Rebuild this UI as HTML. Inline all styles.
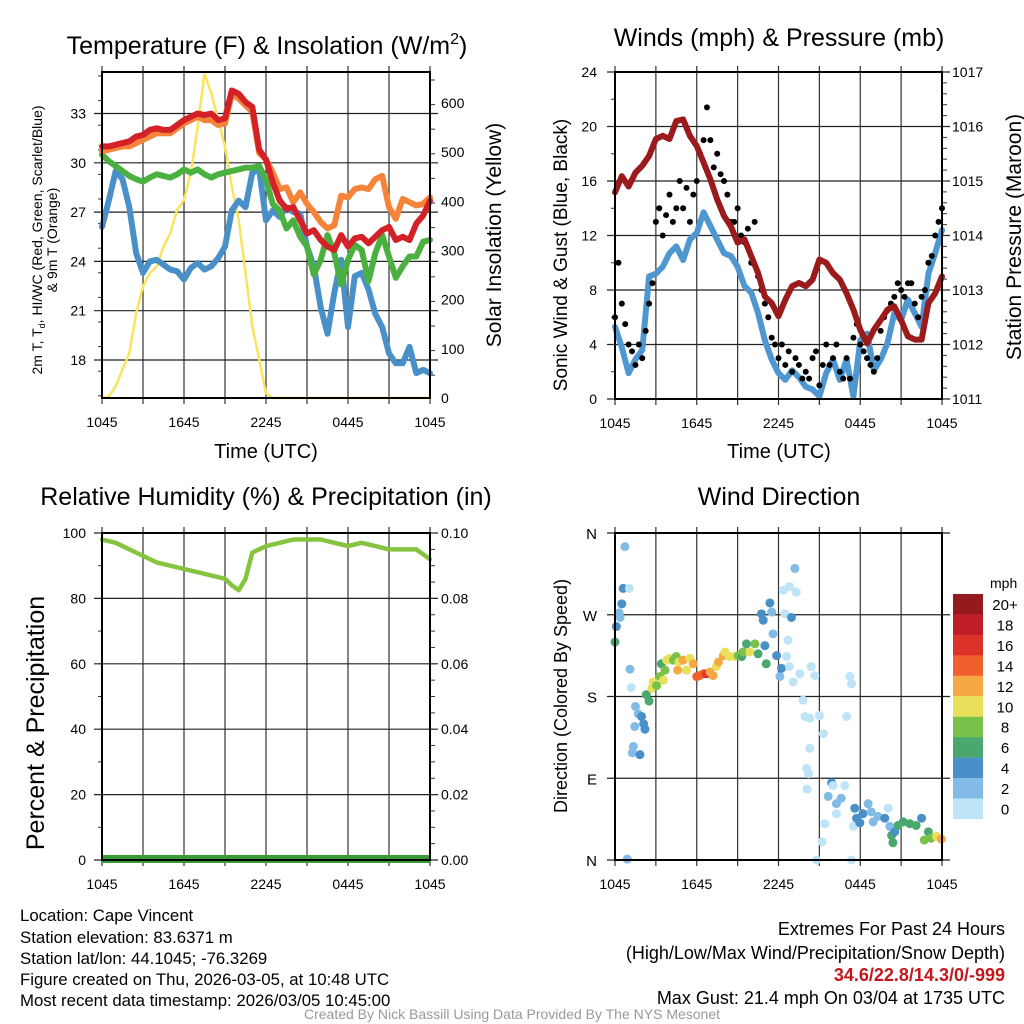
<!DOCTYPE html>
<html><head><meta charset="utf-8"><style>
html,body{margin:0;padding:0;background:#fff;}
svg{display:block;font-family:"Liberation Sans",Arial,sans-serif;}
</style></head><body>
<svg id="chart" width="1024" height="1024" viewBox="0 0 1024 1024" xmlns="http://www.w3.org/2000/svg">
<text x="267" y="54" font-size="25" text-anchor="middle">Temperature (F) &amp; Insolation (W/m<tspan font-size="16" dy="-10">2</tspan><tspan dy="10">)</tspan></text>
<text x="779" y="46" font-size="25" text-anchor="middle">Winds (mph) &amp; Pressure (mb)</text>
<text x="266" y="505" font-size="25" text-anchor="middle">Relative Humidity (%) &amp; Precipitation (in)</text>
<text x="779" y="505" font-size="25" text-anchor="middle">Wind Direction</text>
<text x="266" y="458" font-size="20" text-anchor="middle">Time (UTC)</text>
<text x="779" y="458" font-size="20" text-anchor="middle">Time (UTC)</text>
<text transform="translate(42,240) rotate(-90)" font-size="14" text-anchor="middle">2m T, T<tspan font-size="9" dy="3">d</tspan><tspan dy="-3">, HI/WC (Red, Green, Scarlet/Blue)</tspan></text>
<text transform="translate(57,240) rotate(-90)" font-size="14" text-anchor="middle">&amp; 9m T (Orange)</text>
<text transform="translate(501,235) rotate(-90)" font-size="21" text-anchor="middle">Solar Insolation (Yellow)</text>
<text transform="translate(567,255) rotate(-90)" font-size="19" text-anchor="middle">Sonic Wind &amp; Gust (Blue, Black)</text>
<text transform="translate(1021,237) rotate(-90)" font-size="21" text-anchor="middle">Station Pressure (Maroon)</text>
<text transform="translate(44,723) rotate(-90)" font-size="25" text-anchor="middle">Percent &amp; Precipitation</text>
<text transform="translate(567,696) rotate(-90)" font-size="18" text-anchor="middle">Direction (Colored By Speed)</text>
<g font-size="16.8">
<text x="20" y="921">Location: Cape Vincent</text>
<text x="20" y="943">Station elevation: 83.6371 m</text>
<text x="20" y="964">Station lat/lon: 44.1045; -76.3269</text>
<text x="20" y="985">Figure created on Thu, 2026-03-05, at 10:48 UTC</text>
<text x="20" y="1006">Most recent data timestamp: 2026/03/05 10:45:00</text>
</g>
<g font-size="18" text-anchor="end">
<text x="1005" y="935">Extremes For Past 24 Hours</text>
<text x="1005" y="959">(High/Low/Max Wind/Precipitation/Snow Depth)</text>
<text x="1005" y="981" fill="#c4161c" font-weight="bold">34.6/22.8/14.3/0/-999</text>
<text x="1005" y="1004">Max Gust: 21.4 mph On 03/04 at 1735 UTC</text>
</g>
<text x="512" y="1019" font-size="14" fill="#999" text-anchor="middle">Created By Nick Bassill Using Data Provided By The NYS Mesonet</text>
</svg>
<script>
// ---- data ----
const xTickLabels = ['1045','1645','2245','0445','1045'];
const tempHours = [0,0.5,1,1.5,2,2.5,3,3.5,4,4.5,5,5.5,6,6.5,7,7.5,8,8.5,9,9.5,10,10.5,11,11.5,12,12.5,13,13.5,14,14.5,15,15.5,16,16.5,17,17.5,18,18.5,19,19.5,20,20.5,21,21.5,22,22.5,23,23.5,24];
const tempRed = [31.0,31.0,31.1,31.2,31.3,31.6,31.7,32.0,32.1,32.0,32.0,32.3,32.6,32.8,33.0,32.9,33.0,32.6,32.7,34.4,34.2,33.7,33.4,30.8,30.2,28.8,27.7,27.2,27.3,26.5,25.7,25.9,25.3,24.9,24.7,25.6,24.9,25.4,25.5,25.1,25.5,25.9,26.1,25.3,25.5,25.3,26.3,26.8,27.7];
const tempOrange = [30.7,30.8,30.9,31.0,31.0,31.2,31.4,31.6,31.8,31.8,31.8,32.1,32.4,32.6,32.8,32.6,32.6,32.3,32.4,34.2,33.9,33.5,33.1,30.6,30.2,29.4,28.4,28.5,27.6,28.2,27.5,27.0,26.4,26.0,26.2,28.0,27.9,28.4,28.5,28.4,29.0,29.2,27.3,26.6,27.8,27.6,27.4,27.5,27.9];
const tempGreen = [30.5,30.1,29.8,29.5,29.2,29.0,28.85,29.1,29.3,29.2,29.1,29.3,29.6,29.4,29.6,29.3,29.1,29.3,29.4,29.5,29.6,29.7,29.7,29.8,28.95,27.5,27.1,26.0,26.5,25.5,24.9,23.2,24.1,25.6,24.5,22.6,24.1,25.0,24.7,22.8,24.5,25.6,24.3,23.0,23.7,24.3,24.3,25.2,25.3];
const tempBlue = [26.1,27.7,29.5,29.0,27.3,24.5,23.3,24.0,24.1,23.8,23.5,23.4,22.9,23.6,23.9,23.5,23.7,24.2,24.9,27.1,27.7,27.3,29.4,29.6,26.5,27.1,26.7,27.3,27.0,26.9,24.9,23.7,21.2,19.6,22.1,24.1,20.0,23.1,23.3,22.3,20.8,20.0,18.4,17.8,17.8,18.8,17.2,17.4,17.2];
const solar = [0,3,24,58,91,173,227,254,268,308,335,383,403,457,552,660,620,566,512,430,362,254,146,78,10,0,0,0,0,0,0,0,0,0,0,0,0,0,0,0,0,0,0,0,0,0,0,0,0];
const tempTicks = [18,21,24,27,30,33];
const solarTicks = [0,100,200,300,400,500,600];
const windSpeed = [5.3,3.8,1.9,2.9,3.6,9.0,9.2,9.7,10.7,11.2,10.2,11.7,12.2,13.7,12.7,11.7,10.7,10.5,9.7,8.3,7.8,6.3,4.3,2.9,1.9,1.4,2.1,1.6,0.9,0.7,0.2,1.9,2.9,1.4,2.9,0.2,4.3,4.8,2.1,2.9,4.1,6.3,5.8,7.3,6.3,5.3,9.2,10.7,12.4];
const pressure = [1014.79,1015.09,1014.9,1015.15,1015.28,1015.46,1015.77,1015.83,1015.77,1016.1,1016.13,1015.83,1015.64,1015.34,1015.03,1014.66,1014.36,1014.17,1013.87,1013.93,1013.62,1013.31,1012.88,1012.76,1012.52,1012.82,1013.07,1013.13,1013.07,1013.19,1013.56,1013.5,1013.31,1013.19,1012.94,1012.64,1012.27,1012.02,1012.27,1012.45,1012.64,1012.7,1012.45,1012.15,1012.09,1012.09,1012.76,1012.94,1013.25];
const gusts = [6,10,7,5.5, 4,3.5,2.5,4, 3,5,7,8.5, 13,14,12,13.5, 15,13,14,16, 14,15.5,13,15, 16,18,19,21.4, 19,17,18,16.5, 16,15,13,13, 14,12,11.5,12.5, 10,13,9,8, 7,6,4.5,4, 3,4,2.5,3.5, 2,3,2.5,1.5, 2,1.5,3,3.5, 1,2.5,4,2.5, 3,4,2,1.5, 3,1.5,4.5,5.5, 4,3.5,3,2.5, 2,3,5,6, 6.5,7,7.5,8.5, 8,7.5,8.5,8.5, 7,6,7.5,8, 10,10.5,12,13, 14];
const windTicks = [0,4,8,12,16,20,24];
const pressureTicks = [1011,1012,1013,1014,1015,1016,1017];
const rhHours = [0,1,2,3,4,5,6,7,8,9,9.5,10,10.5,11,12,13,14,15,16,17,18,19,20,21,22,23,24];
const rh = [98,97,95,93,91,90,89,88,87,86,84,82.5,86,94,96,97,98,98,98,97,96,97,96,95,95,95,92];
const rhTicks = [0,20,40,60,80,100];
const precipTicks = ['0.00','0.02','0.04','0.06','0.08','0.10'];
const dirHour = [0,0.1,0.3,0.37,0.5,0.6,0.73,1.05,1.1,1.2,0.9,1.5,1.7,1.95,2.1,2.2,1.45,1.35,1.27,1.83,2.3,2.5,2.7,2.8,3.05,3.3,3.55,3.4,3.67,3.8,4.0,4.28,4.5,4.6,4.7,5.0,5.25,5.5,5.75,6.0,6.2,6.5,6.72,6.97,7.2,7.45,7.6,7.95,8.07,8.4,8.8,9.05,9.3,9.4,9.65,9.9,10.27,10.5,10.75,10.88,11.0,11.1,11.37,11.5,11.6,11.86,12.1,12.22,12.35,12.47,12.8,12.95,13.2,13.3,12.7,12.6,12.8,13.08,13.57,13.8,13.94,14.3,14.4,14.67,15.0,15.3,14.3,14.06,14.2,14.1,14.8,15.2,15.4,15.65,15.9,16.0,16.25,16.25,16.6,16.87,17.0,17.24,17.36,17.36,17.5,17.6,17.73,17.97,18.2,18.58,18.8,18.95,19.3,19.8,20.05,20.17,20.3,20.53,20.4,20.78,21.15,21.64,22.1,22.5,23.0,22.7,23.2,23.6,23.95];
const dirDeg = [240,257,272,267,282,299,345,299,210,190,1,169,161,158,150,144,147,125,118,116,182,175,189,196,192,202,198,216,209,220,222,220,224,209,218,220,209,222,216,202,203,205,205,207,203,213,218,225,229,224,224,225,224,229,238,229,238,227,271,264,236,216,283,273,249,225,202,211,297,271,301,267,321,295,242,224,213,196,205,176,158,156,213,203,159,139,123,101,95,78,0,20,40,70,85,82,62,51,68,82,158,202,194,0,37,57,46,41,51,62,53,42,48,46,57,37,27,31,19,38,42,40,38,46,31,22,24,26,23];
const dirSpeed = [6,4,3,2,4,4,2,0,2,0,2,2,2,4,4,4,2,2,2,4,6,6,10,10,8,8,10,6,8,10,10,8,8,12,10,12,10,10,12,14,14,14,16,12,12,10,12,12,10,10,10,8,6,8,6,10,8,6,4,4,4,6,4,2,2,4,2,4,0,0,0,4,2,0,0,0,0,0,0,0,0,0,0,0,0,0,0,0,0,0,0,0,0,2,4,0,2,0,2,0,0,0,0,0,0,4,4,4,4,2,2,2,2,4,0,2,6,4,6,6,6,6,6,4,6,8,8,10,12];
const dirTicks = ['N','E','S','W','N'];
const speedLabels = ['20+','18','16','14','12','10','8','6','4','2','0'];
const speedColors = ['#951a1d','#bf1e26','#dd3229','#ef602c','#f6a845','#e8e05a','#7ac14a','#4aa86e','#4a90c8','#82bce6','#bde4f7'];

const NS='http://www.w3.org/2000/svg';
const svg=document.getElementById('chart');
function mk(tag,attrs,parent){const e=document.createElementNS(NS,tag);for(const k in attrs)e.setAttribute(k,attrs[k]);(parent||svg).appendChild(e);return e;}
function lin(d0,d1,r0,r1){return v=>r0+(v-d0)*(r1-r0)/(d1-d0);}

function panel(name,x0,x1,y0,y1,hTickPos,xLabels){
  const g=mk('g',{});
  
  
  const xs=lin(0,24,x0,x1);
  for(let h=0;h<=24;h+=3){
    const l=mk('line',{x1:xs(h),x2:xs(h),y1:y0-6,y2:y1+6,stroke:'#333','stroke-width':1.2},g);
    
    
  }
  hTickPos.forEach(y=>{
    const l=mk('line',{x1:x0-8,x2:x1+8,y1:y,y2:y,stroke:'#222','stroke-width':1.2},g);
    
    
  });
  if(xLabels){
    xTickLabels.forEach((s,i)=>{
      const t=mk('text',{x:xs(i*6),y:y1+29,'font-size':14,'text-anchor':'middle'},g);
      t.textContent=s;
      
      
    });
  }
  return {g,xs};
}
function frame(x0,x1,y0,y1){
  const r=mk('rect',{x:x0,y:y0,width:x1-x0,height:y1-y0,fill:'none',stroke:'#000','stroke-width':2});
  
  
}
function yLabels(vals,scale,x,anchor){
  vals.forEach(v=>{
    const t=mk('text',{x:x,y:scale(typeof v==='string'?parseFloat(v):v)+5,'font-size':14,'text-anchor':anchor});
    t.textContent=String(v);
    
    
  });
}
function minor(x,y0,y1,step,len){
  for(let y=y0;y<=y1+0.1;y+=step){
    const l=mk('line',{x1:x,x2:x+len,y1:y,y2:y,stroke:'#333','stroke-width':1});
    
    
  }
}
function path(xs,ys,hours,vals,color,w,name){
  const d=hours.map((h,i)=>(i?'L':'M')+xs(h).toFixed(1)+','+ys(vals[i]).toFixed(1)).join('');
  const p=mk('path',{d:d,fill:'none',stroke:color,'stroke-width':w,'stroke-linejoin':'round','stroke-linecap':'round'});
  
  
}

// Panel 1
{
  const x0=102,x1=430,y0=72,y1=398;
  const yT=lin(18,33,360,113.5), yS=lin(0,600,398,103);
  const {xs}=panel('temperature',x0,x1,y0,y1,tempTicks.map(yT),true);
  minor(x0-4,y0+4,y1,24.6,4); minor(x1,y0+8,y1,24.6,5);
  yLabels(tempTicks,yT,86,'end');
  yLabels(solarTicks,yS,441,'start');
  path(xs,yS,tempHours,solar,'#fbe35b',2.5,'solar-line');
  path(xs,yT,tempHours,tempBlue,'#4a90c8',6,'dewpoint-line');
  path(xs,yT,tempHours,tempGreen,'#4ab040',6,'heat-index-line');
  path(xs,yT,tempHours,tempOrange,'#f5843a',6,'temp-9m-line');
  path(xs,yT,tempHours,tempRed,'#d42027',6,'temp-2m-line');
  frame(x0,x1,y0,y1);
}
// Panel 2
{
  const x0=615,x1=942,y0=72,y1=399;
  const yW=lin(0,24,y1,y0), yP=lin(1011,1017,y1,y0);
  const {xs}=panel('winds',x0,x1,y0,y1,windTicks.map(yW),true);
  minor(x0-4,y0,y1,27.25,4); minor(x1,y0,y1,10.9,5);
  yLabels(windTicks,yW,597,'end');
  yLabels(pressureTicks,yP,952,'start');
  path(xs,yW,tempHours,windSpeed,'#4f97d0',6,'wind-speed-line');
  gusts.forEach((v,i)=>{
    const c=mk('circle',{cx:xs(i*0.25),cy:yW(v),r:3,fill:'#000'});
    
    
  });
  path(xs,yP,tempHours,pressure,'#9b1a1c',6,'pressure-line');
  frame(x0,x1,y0,y1);
}
// Panel 3
{
  const x0=102,x1=430,y0=533,y1=860;
  const yR=lin(0,100,y1,y0);
  const {xs}=panel('humidity',x0,x1,y0,y1,rhTicks.map(yR),true);
  minor(x0-4,y0,y1,32.7,4); minor(x1,y0,y1,16.35,5);
  yLabels(rhTicks,yR,86,'end');
  yLabels(precipTicks,lin(0,0.1,y1,y0),441,'start');
  path(xs,yR,rhHours,rh,'#86c440',4.5,'humidity-line');
  const pl=mk('line',{x1:x0,x2:x1,y1:y1-1,y2:y1-1,stroke:'#3a9a3a','stroke-width':8});
  
  
  frame(x0,x1,y0,y1);
}
// Panel 4
{
  const x0=615,x1=942,y0=533,y1=860;
  const yD=lin(0,360,y1,y0);
  const {xs}=panel('direction',x0,x1,y0,y1,[0,90,180,270,360].map(yD),true);
  dirTicks.forEach((s,i)=>{
    const t=mk('text',{x:597,y:yD(i*90)+6,'font-size':15,'text-anchor':'end'});
    t.textContent=s;
    
    
  });
  dirHour.forEach((h,i)=>{
    const idx=Math.max(0,10-Math.min(10,Math.floor(dirSpeed[i]/2)));
    const c=mk('circle',{cx:xs(h),cy:yD(dirDeg[i]),r:4.5,fill:speedColors[idx]});
    
    
  });
  frame(x0,x1,y0,y1);
  const t=mk('text',{x:990,y:588,'font-size':14,'text-anchor':'start'});
  t.textContent='mph';
  
  
  speedLabels.forEach((s,i)=>{
    const y=594+i*20.45;
    const r=mk('rect',{x:953,y:y,width:30,height:20.6,fill:speedColors[i]});
    
    
    const l=mk('text',{x:1005,y:y+16,'font-size':15,'text-anchor':'middle'});
    l.textContent=s;
    
    
  });
}
</script>
</body></html>
